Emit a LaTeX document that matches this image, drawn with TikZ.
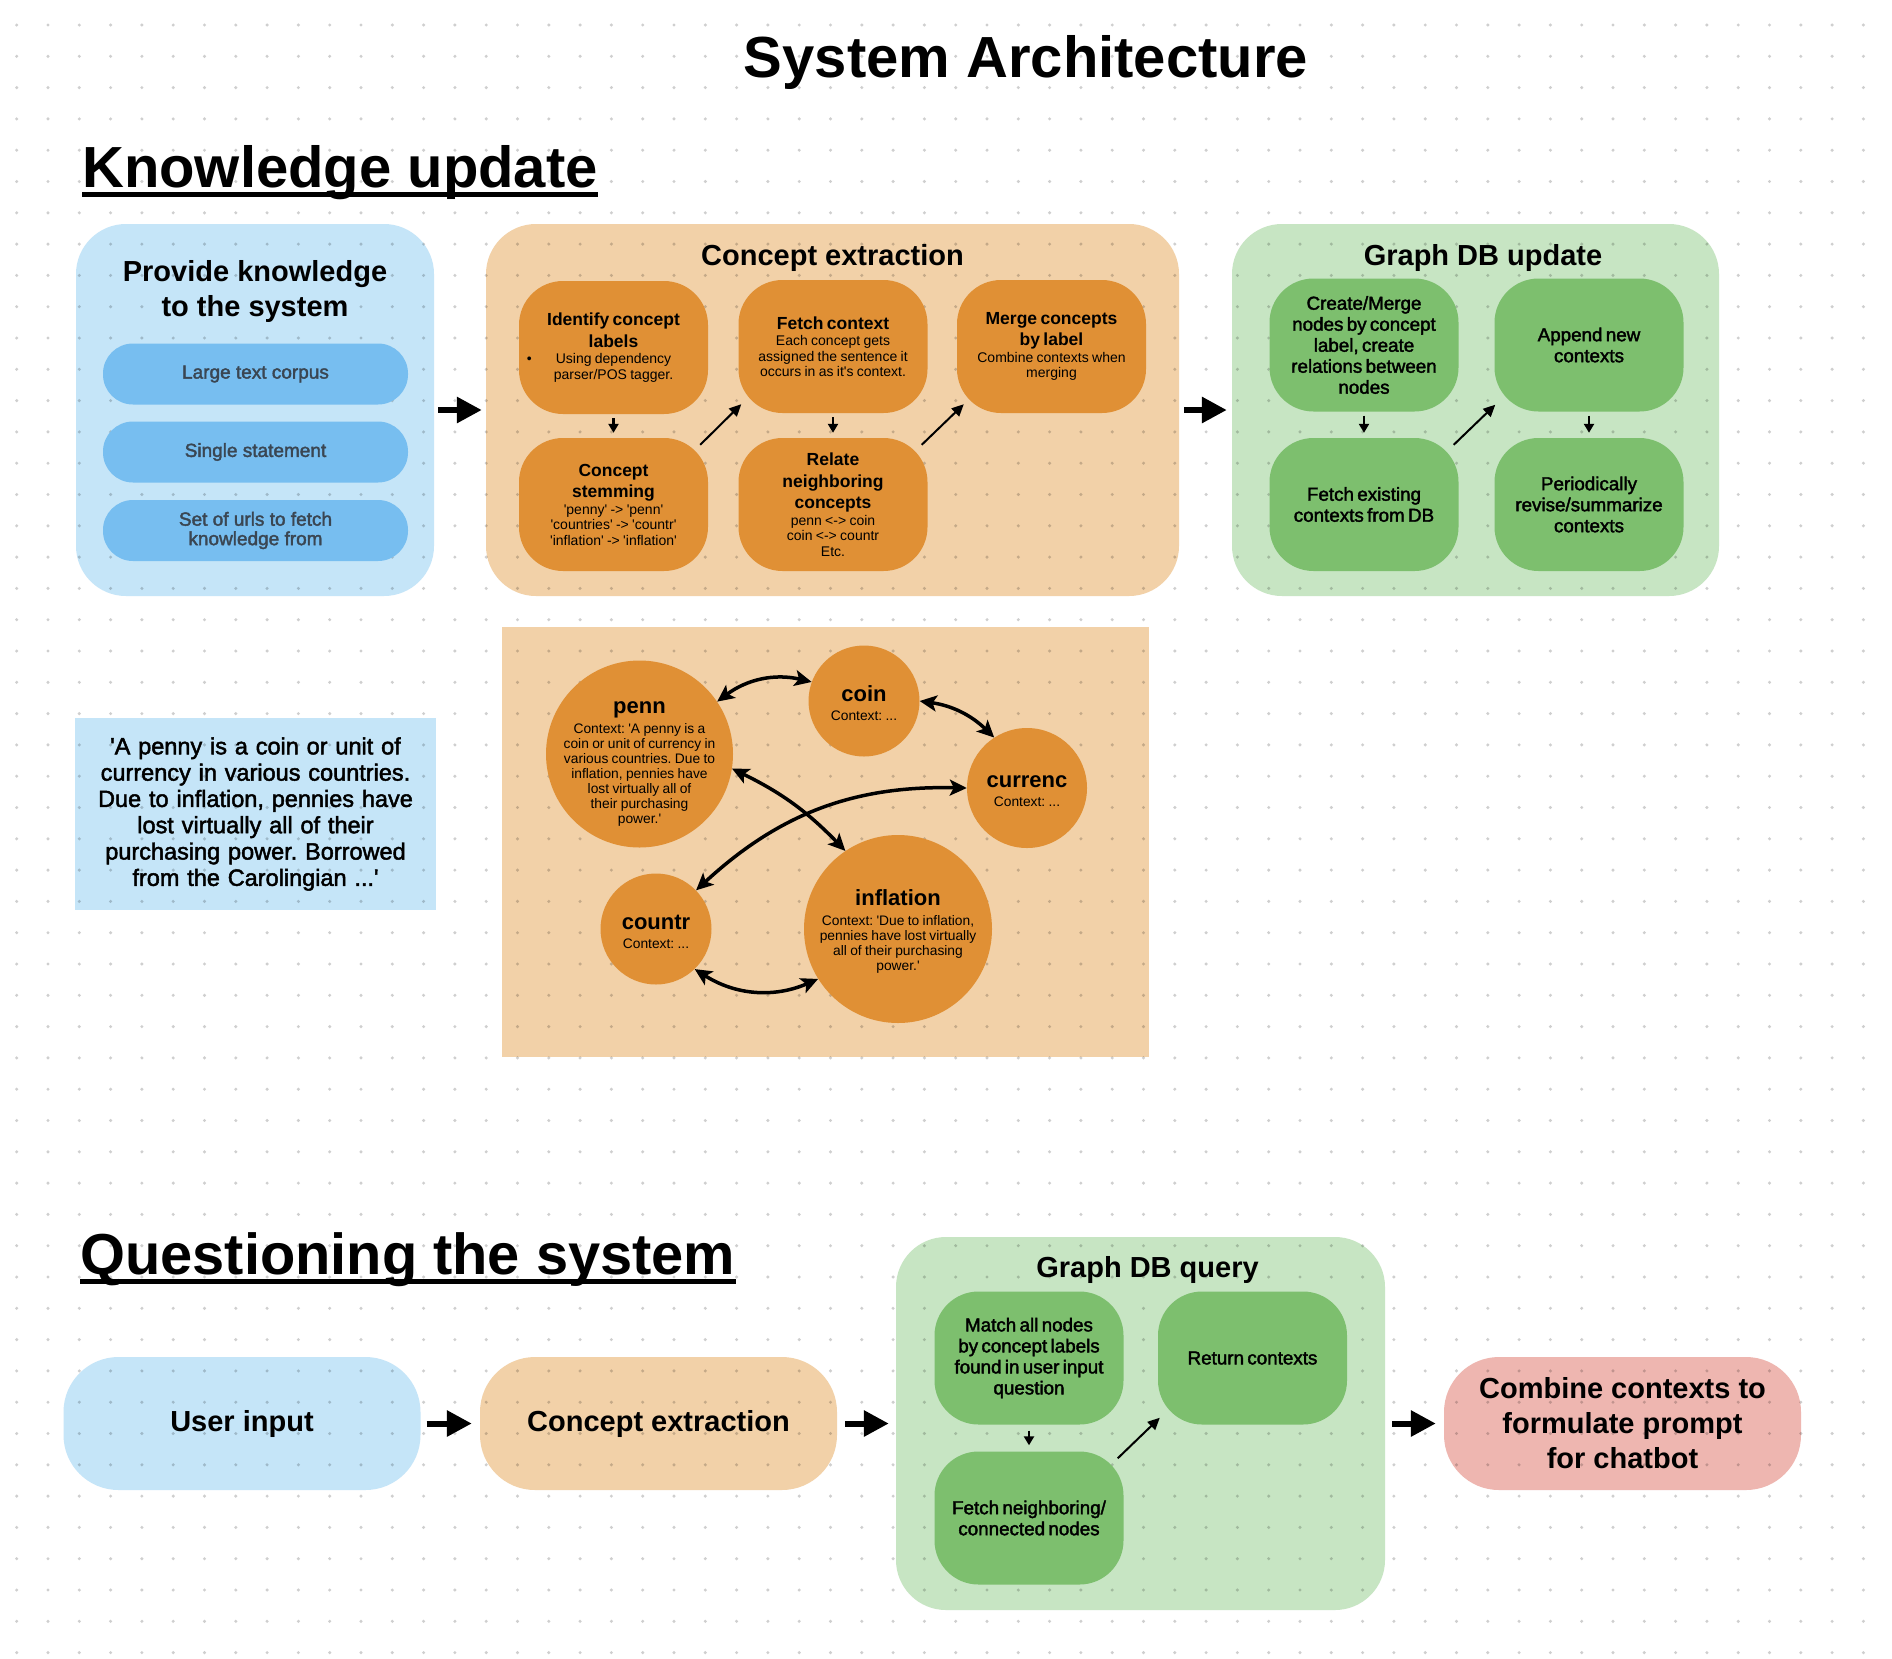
\documentclass[tikz,border=0pt]{standalone}
\usepackage{fontspec}
\setmainfont{Liberation Sans}
\newfontfamily\medfont{Liberation Sans}[FakeBold=2]
\usetikzlibrary{arrows.meta}
\frenchspacing
\definecolor{lblue}{HTML}{C5E5F8}
\definecolor{pblue}{HTML}{77BEF0}
\definecolor{ptext}{HTML}{3A4652}
\definecolor{lorange}{HTML}{F2D1A8}
\definecolor{dorange}{HTML}{E09035}
\definecolor{lgreen}{HTML}{C7E5C3}
\definecolor{dgreen}{HTML}{7DBF6E}
\definecolor{lpink}{HTML}{EEB6B0}
\newcommand\fs[2]{\fontsize{#1}{#2}\selectfont}
\newcommand\q{\textquotesingle}
\newcommand\otitle{\bfseries\fs{17.5}{21.5}}
\newcommand\osub{\mdseries\fs{14}{15.5}}
\newcommand\gtext{\medfont\fs{18.8}{21}}
\newcommand\cname{\bfseries\fs{22}{24}}
\newcommand\csub{\mdseries\fs{13.8}{15}}
\begin{document}
\begin{tikzpicture}[x=1pt,y=1pt,
 cont/.style={rounded corners=50pt, inner sep=0pt},
 innerbox/.style={rounded corners=44pt, minimum width=189pt, minimum height=133pt, inner sep=0pt, text width=180pt, align=center},
 pillb/.style={fill=pblue, rounded corners=30pt, minimum width=305pt, minimum height=61pt, inner sep=0pt, align=center, text=ptext, font=\medfont\fs{19}{19.5}},
 bigpill/.style={rounded corners=55pt, minimum width=357pt, minimum height=133pt, inner sep=0pt, align=center, font=\bfseries\fs{29}{35}},
 sectitle/.style={anchor=base, inner sep=0pt, font=\bfseries\fs{29}{35}, align=center},
 circ/.style={circle, fill=dorange, inner sep=0pt},
 ctext/.style={inner sep=0pt, text width=170pt, align=center},
 bigarrow/.style={line width=6pt, -{Triangle[length=25pt,width=25pt]}},
 sarrow/.style={line width=2.3pt, -{Triangle[length=9pt,width=10pt]}},
 darrow/.style={line width=2pt, -{Triangle[length=12pt,width=11pt]}},
 gedge/.style={line width=3.5pt, {Stealth[length=17pt,width=16pt,inset=4pt]}-{Stealth[length=17pt,width=16pt,inset=4pt]}},
]
\useasboundingbox (0,0) rectangle (1892,-1658);
\fill[white] (0,0) rectangle (1892,-1658);

% top-level shapes
\node[cont, fill=lblue, minimum width=358pt, minimum height=372pt] (provide) at (255,-410) {};
\node[cont, fill=lorange, minimum width=693pt, minimum height=372pt] (cext) at (832.5,-410) {};
\node[cont, fill=lgreen, minimum width=487pt, minimum height=372pt] (gdb) at (1475.5,-410) {};
\node[fill=lblue, minimum width=361pt, minimum height=192pt, inner sep=0pt, text width=340pt, align=center, font=\medfont\fs{23.5}{26.3}] (quote) at (255.5,-814)
 {\q A penny is a coin or unit of\\currency in various countries.\\Due to inflation, pennies have\\lost virtually all of their\\purchasing power. Borrowed\\from the Carolingian ...\q};
\node[fill=lorange, minimum width=647pt, minimum height=430pt, inner sep=0pt] (panel) at (825.5,-842) {};
\node[bigpill, fill=lblue] (user) at (242,-1423.5) {User input};
\node[bigpill, fill=lorange] (cext2) at (658.5,-1423.5) {Concept extraction};
\node[cont, fill=lgreen, minimum width=489pt, minimum height=373pt] (query) at (1140.5,-1423.5) {};
\node[bigpill, fill=lpink] (combine) at (1622.5,-1423.5) {Combine contexts to\\formulate prompt\\for chatbot};

% dot grid
\foreach \j in {0,...,52} {
  \fill[black, opacity=0.19] \foreach \i in {0,...,60} {(16.7+31.3*\i, -25-31.3*\j) circle[radius=1.7pt]};
}

% headings
\node[anchor=base, inner sep=0pt, font=\bfseries\fs{58}{64}] (systitle) at (1026,-77) {System Architecture};
\node[anchor=base west, inner sep=0pt, font=\bfseries\fs{58}{64}] (ku) at (82,-187) {Knowledge update};
\draw[line width=5.6pt] ([yshift=-7.5pt]ku.base west) -- ([yshift=-7.5pt]ku.base east);
\node[anchor=base west, inner sep=0pt, font=\bfseries\fs{57.8}{64}] (qs) at (80,-1274) {Questioning the system};
\draw[line width=5.6pt] ([yshift=-7.5pt]qs.base west) -- ([yshift=-7.5pt]qs.base east);

% provide knowledge
\node[sectitle, anchor=north] (provt) at (255,-260) {Provide knowledge\\to the system};
\node[pillb] (p1) at (255.5,-374) {Large text corpus};
\node[pillb] (p2) at (255.5,-452) {Single statement};
\node[pillb] (p3) at (255.5,-530.5) {Set of urls to fetch\\knowledge from};

% concept extraction
\node[sectitle] (cextt) at (832.5,-265) {Concept extraction};
\node[innerbox, fill=dorange] (ident) at (613.5,-347.5)
 {\otitle Identify concept\\labels\par\vspace{1pt}\osub\leavevmode\llap{\textbullet\hspace{24pt}}Using dependency\\parser/POS tagger.\par};
\node[innerbox, fill=dorange] (fetch) at (833,-346.5)
 {\otitle Fetch context\par\vspace{1pt}\osub Each concept gets\\assigned the sentence it\\occurs in as it\q s context.\par};
\node[innerbox, fill=dorange] (merge) at (1051.5,-346.5)
 {\otitle Merge concepts\\by label\par\vspace{1pt}\osub Combine contexts when\\merging\par};
\node[innerbox, fill=dorange] (stem) at (613.5,-504.5)
 {\otitle Concept\\stemming\par\vspace{1pt}\osub \q penny\q{} -> \q penn\q\\\q countries\q{} -> \q countr\q\\\q inflation\q{} -> \q inflation\q\par};
\node[innerbox, fill=dorange] (relate) at (833,-504.5)
 {\otitle Relate\\neighboring\\concepts\par\vspace{1pt}\osub penn <-> coin\\coin <-> countr\\Etc.\par};
\draw[sarrow, shorten <=4pt, shorten >=5pt] (ident.south) -- (stem.north);
\draw[darrow] ([shift={(-8,-7)}]stem.north east) -- ([shift={(3,9)}]fetch.south west);
\draw[sarrow, shorten <=4pt, shorten >=5pt] (fetch.south) -- (relate.north);
\draw[darrow] ([shift={(-6,-7)}]relate.north east) -- ([shift={(7,9)}]merge.south west);

% graph db update
\node[sectitle] (gdbt) at (1483,-265) {Graph DB update};
\node[innerbox, fill=dgreen] (create) at (1364,-345) {\gtext Create/Merge\\nodes by concept\\label, create\\relations between\\nodes\par};
\node[innerbox, fill=dgreen] (append) at (1589,-345) {\gtext Append new\\contexts\par};
\node[innerbox, fill=dgreen] (fetchx) at (1364,-504.5) {\gtext Fetch existing\\contexts from DB\par};
\node[innerbox, fill=dgreen] (period) at (1589,-504.5) {\gtext Periodically\\revise/summarize\\contexts\par};
\draw[sarrow, shorten <=4pt, shorten >=5pt] (create.south) -- (fetchx.north);
\draw[darrow] ([shift={(-5,-7)}]fetchx.north east) -- ([shift={(1,7)}]append.south west);
\draw[sarrow, shorten <=4pt, shorten >=5pt] (append.south) -- (period.north);

% concept graph
\node[circ, minimum size=187pt] (penn) at (639.5,-754) {};
\node[circ, minimum size=111pt] (coin) at (864,-701) {};
\node[circ, minimum size=120pt] (currenc) at (1027,-788) {};
\node[circ, minimum size=111pt] (countr) at (656,-929) {};
\node[circ, minimum size=188pt] (inflation) at (898,-929) {};
\node[ctext] (penn-t) at (639.5,-764) {\cname penn\par\vspace{5pt}\csub Context: \q A penny is a\\coin or unit of currency in\\various countries. Due to\\inflation, pennies have\\lost virtually all of\\their purchasing\\power.\q\par};
\node[ctext] (coin-t) at (864,-703) {\cname coin\par\vspace{4pt}\csub Context: ...\par};
\node[ctext] (currenc-t) at (1027,-791) {\cname currenc\par\vspace{4pt}\csub Context: ...\par};
\node[ctext] (countr-t) at (656,-931.5) {\cname countr\par\vspace{4pt}\csub Context: ...\par};
\node[ctext] (inflation-t) at (898,-931) {\cname inflation\par\vspace{5pt}\csub Context: \q Due to inflation,\\pennies have lost virtually\\all of their purchasing\\power.\q\par};
\draw[gedge] (penn.34) to[bend left=25] (coin.160);
\draw[gedge] (coin.0) to[bend left=18] (currenc.123);
\draw[gedge] (penn.-9) to[bend left=10] (inflation.124);
\draw[gedge] (currenc.180) to[bend right=22] (countr.44);
\draw[gedge] (countr.-46) to[bend right=28] (inflation.212);

% graph db query
\node[sectitle] (queryt) at (1147.5,-1277) {Graph DB query};
\node[innerbox, fill=dgreen] (match) at (1029,-1358) {\gtext Match all nodes\\by concept labels\\found in user input\\question\par};
\node[innerbox, fill=dgreen] (ret) at (1252.5,-1358) {\gtext Return contexts\par};
\node[innerbox, fill=dgreen] (fetchn) at (1029,-1518) {\gtext Fetch neighboring/\\connected nodes\par};
\draw[sarrow, shorten <=6pt, shorten >=6pt] (match.south) -- (fetchn.north);
\draw[darrow] ([shift={(-6,-7)}]fetchn.north east) -- ([shift={(2,7)}]ret.south west);

% main flow arrows
\draw[bigarrow, shorten <=4pt, shorten >=4pt] (provide.east) -- (cext.west);
\draw[bigarrow, shorten <=5pt, shorten >=5pt] (cext.east) -- (gdb.west);
\draw[bigarrow, shorten <=6pt, shorten >=8pt] (user.east) -- (cext2.west);
\draw[bigarrow, shorten <=8pt, shorten >=7pt] (cext2.east) -- (query.west);
\draw[bigarrow, shorten <=7pt, shorten >=8pt] (query.east) -- (combine.west);
\end{tikzpicture}
\end{document}
